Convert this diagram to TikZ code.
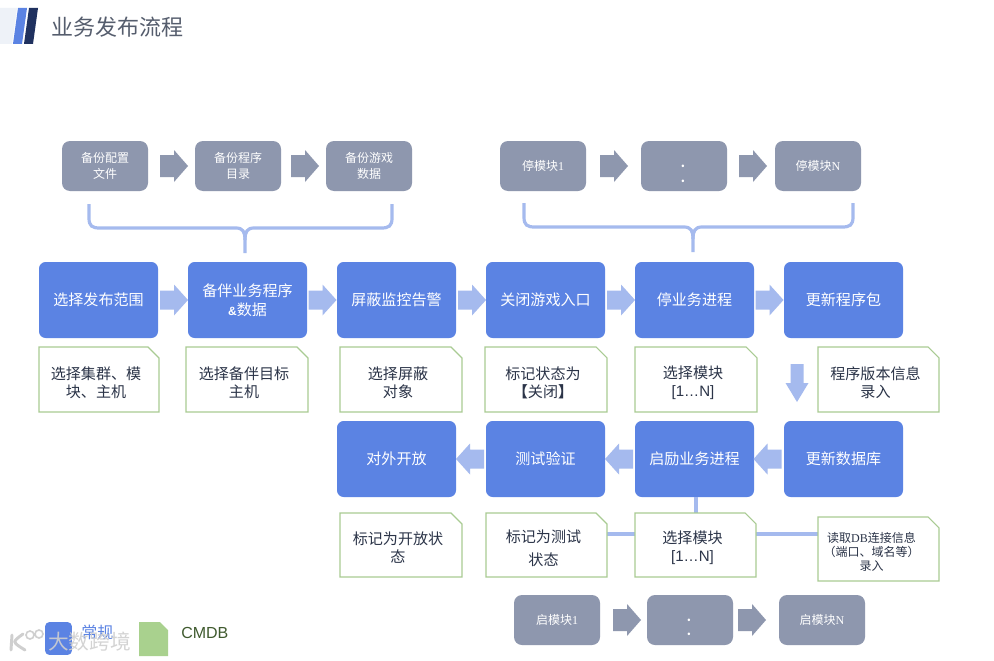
\documentclass[tikz,border=0pt]{standalone}
\usepackage{fontspec}
\setmainfont{Noto Sans CJK SC}
\newfontfamily\latinsans{Liberation Sans}
\newfontfamily\latinserif{Liberation Serif}
\usetikzlibrary{calc}
\definecolor{grayblock}{HTML}{8E97AE}
\definecolor{blueblock}{HTML}{5B83E3}
\definecolor{lightarrow}{HTML}{A5BAEE}
\definecolor{notegreen}{HTML}{A9CB93}
\definecolor{legendgreen}{HTML}{A9D18E}
\definecolor{darktext}{HTML}{2B3448}
\definecolor{navy}{HTML}{1F315F}
\definecolor{cmdbtext}{HTML}{3F5A2E}
\definecolor{paleblock}{HTML}{EEF2F8}
\definecolor{wmark}{HTML}{CFCFCF}
\tikzset{
  x=0.75pt,y=-0.75pt,
  grayblk/.style={fill=grayblock,rounded corners=6pt,text=white,align=center,inner sep=0pt,
    minimum width=64.5pt,minimum height=37.5pt,font=\fontsize{9}{12}\selectfont},
  blueblk/.style={fill=blueblock,rounded corners=5pt,text=white,align=center,inner sep=0pt,
    minimum width=89.25pt,minimum height=57pt,font=\fontsize{11.3}{14.5}\selectfont},
  notetxt/.style={text=darktext,align=center,inner sep=0pt,font=\fontsize{11.3}{13.5}\selectfont},
  dotmark/.style={text=white,inner sep=0pt,font=\bfseries\fontsize{9}{9}\selectfont},
  link/.style={draw=lightarrow,line width=2.7pt},
  brace/.style={draw=lightarrow,line width=2.4pt,line cap=butt},
}
\newcommand{\grayarrow}[3]{\fill[grayblock,shift={(#1,#2)},rotate=#3]
  (0,-11) -- (14,-11) -- (14,-16) -- (28,0) -- (14,16) -- (14,11) -- (0,11) -- cycle;}
\newcommand{\bluearrow}[3]{\fill[lightarrow,shift={(#1,#2)},rotate=#3]
  (0,-9.5) -- (14,-9.5) -- (14,-15.5) -- (28,0) -- (14,15.5) -- (14,9.5) -- (0,9.5) -- cycle;}
\newcommand{\notebox}[6][]{%
  \path (#3,#4) coordinate (#2a) (#5,#6) coordinate (#2b);
  \draw[notegreen,line width=0.8pt,fill=white] (#3,#4) -- (#5-11,#4) -- (#5,#4+11) -- (#5,#6) -- (#3,#6) -- cycle;
  \notetext[#1]{#2}}
\newcommand{\notetext}[3][]{\node[notetxt,#1] (#2) at ($(#2a)!0.5!(#2b)+(-3,3)$) {#3};}
\begin{document}
\begin{tikzpicture}
\useasboundingbox (0,0) rectangle (994,660);
\fill[white] (0,0) rectangle (994,660);
% header
\fill[paleblock] (0,8) -- (17,8) -- (12,44) -- (0,44) -- cycle;
\fill[blueblock] (18,8) -- (27,8) -- (22,44) -- (13,44) -- cycle;
\fill[navy] (29,8) -- (38,8) -- (33,44) -- (24,44) -- cycle;
\node[anchor=west,inner sep=0pt,text=darktext!80!white,font=\fontsize{16.5}{20}\selectfont] (title) at (51,27) {业务发布流程};
% gray row 1
\node[grayblk] (g1) at (105,166) {备份配置\\文件};
\node[grayblk] (g2) at (238,166) {备份程序\\目录};
\node[grayblk] (g3) at (369,166) {备份游戏\\数据};
\node[grayblk] (g4) at (543,166) {停模块{\latinserif 1}};
\node[grayblk] (g5) at (684,166) {};
\node[dotmark] (g5a) at (683,166) {.};
\node[dotmark] (g5b) at (683,181) {.};
\node[grayblk] (g6) at (818,166) {停模块{\latinserif N}};
\grayarrow{160}{166}{0}
\grayarrow{291}{166}{0}
\grayarrow{600}{166}{0}
\grayarrow{739}{166}{0}
% braces
\draw[brace] (89,204) -- (89,218) .. controls (89,226) and (92,228) .. (100,228)
  -- (236,228) .. controls (243,228) and (245,232) .. (245,240) -- (245,253);
\draw[brace] (392,204) -- (392,218) .. controls (392,226) and (389,228) .. (381,228)
  -- (254,228) .. controls (247,228) and (245,232) .. (245,240);
\draw[brace] (524,203) -- (524,217) .. controls (524,225) and (527,227) .. (535,227)
  -- (684,227) .. controls (691,227) and (693,231) .. (693,239) -- (693,252);
\draw[brace] (853,203) -- (853,217) .. controls (853,225) and (850,227) .. (842,227)
  -- (702,227) .. controls (695,227) and (693,231) .. (693,239);
% blue row 1
\node[blueblk] (b1) at (98.5,300) {\raisebox{-1pt}{选择发布范围}};
\node[blueblk] (b2) at (247.5,300) {备伴业务程序\\{\latinsans\bfseries\small\&}数据};
\node[blueblk] (b3) at (396.5,300) {\raisebox{-1pt}{屏蔽监控告警}};
\node[blueblk] (b4) at (545.5,300) {\raisebox{-1pt}{关闭游戏入口}};
\node[blueblk] (b5) at (694.5,300) {\raisebox{-1pt}{停业务进程}};
\node[blueblk] (b6) at (843.5,300) {\raisebox{-1pt}{更新程序包}};
\bluearrow{160}{300}{0}
\bluearrow{308.5}{300}{0}
\bluearrow{458}{300}{0}
\bluearrow{607}{300}{0}
\bluearrow{755.5}{300}{0}
% notes row 1
\notebox{n1}{39}{347}{159}{412}{选择集群、模\\块、主机}
\notebox{n2}{186}{347}{308}{412}{选择备伴目标\\主机}
\notebox{n3}{340}{347}{462}{412}{选择屏蔽\\对象}
\notebox{n4}{485}{347}{607}{412}{标记状态为\\{\bfseries【}关闭{\bfseries】}}
\notebox{n5}{635}{347}{757}{412}{选择模块\\{\latinsans [1…N]}}
\notebox{n6}{818}{347}{939}{412}{程序版本信息\\录入}
\fill[lightarrow] (790.5,364) -- (803.5,364) -- (803.5,383) -- (808.5,383) -- (797,402) -- (785.5,383) -- (790.5,383) -- cycle;
% blue row 2
\node[blueblk] (c1) at (396.5,459) {\raisebox{-1pt}{对外开放}};
\node[blueblk] (c2) at (545.5,459) {\raisebox{-1pt}{测试验证}};
\node[blueblk] (c3) at (694.5,459) {\raisebox{-1pt}{启励业务进程}};
\node[blueblk] (c4) at (843.5,459) {\raisebox{-1pt}{更新数据库}};
\bluearrow{484}{459}{180}
\bluearrow{633}{459}{180}
\bluearrow{781.5}{459}{180}
% connectors
\draw[link] (c3.south -| 696,0) -- (696,513);
\draw[link] (607,534) -- (635,534);
\draw[link] (756,534) -- (818,534);
% notes row 2
\notebox{m1}{340}{513}{462}{577}{标记为开放状\\态}
\notebox{m2}{486}{513}{607}{577}{标记为测试\\[4pt]状态}
\notebox{m3}{635}{513}{756}{577}{选择模块\\{\latinsans [1…N]}}
\notebox[xshift=-3pt,yshift=0pt,font=\fontsize{9}{10.5}\selectfont]{m4}{818}{517}{939}{581}{读取{\latinserif DB}连接信息\\（端口、域名等）\\录入}
% gray row 2
\node[grayblk] (h1) at (557,620) {启模块{\latinserif 1}};
\node[grayblk] (h2) at (690,620) {};
\node[dotmark] (h2a) at (689,620) {.};
\node[dotmark] (h2b) at (689,634) {.};
\node[grayblk] (h3) at (822,620) {启模块{\latinserif N}};
\grayarrow{613}{620}{0}
\grayarrow{738}{620}{0}
% legend
\node[fill=blueblock,rounded corners=3pt,inner sep=0pt,minimum width=20pt,minimum height=24.5pt] (lg1) at (58.5,638.5) {};
\node[anchor=west,inner sep=0pt,text=blueblock,font=\fontsize{12}{14}\selectfont] (lt1) at (81,632) {常规};
\fill[legendgreen] (139,622) -- (160,622) -- (168,630) -- (168,656) -- (139,656) -- cycle;
\node[anchor=west,inner sep=0pt,text=cmdbtext,font=\latinsans\fontsize{12}{14}\selectfont] (lt2) at (181,633) {CMDB};
% watermark
\node[anchor=west,inner sep=0pt,text=wmark,opacity=0.9,font=\fontsize{15.5}{18}\selectfont] (wm) at (48,642) {大数跨境};
\draw[wmark,line width=2.2pt,line cap=round] (12,635) -- (11,650) (23,634) .. controls (12,642) .. (25,650);
\draw[wmark,line width=1.2pt] (30,635) circle (4) (39,634) circle (4);
\end{tikzpicture}
\end{document}
